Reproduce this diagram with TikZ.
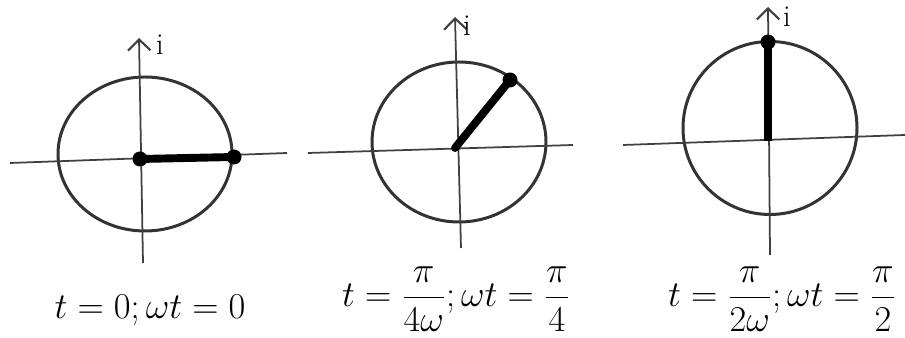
\documentclass[tikz,border=0pt]{standalone}
\usepackage{amsmath,amssymb}
\usepackage{tikz}
\usetikzlibrary{arrows.meta, positioning, calc}

\begin{document}
\begin{tikzpicture}[
    axisline/.style={line width=1pt, black!75},
    upaxis/.style={axisline, -{Straight Barb[length=2.2mm, width=4.5mm, line width=1.2pt]}},
    ring/.style={line width=1.7pt, black!80},
    phasor/.style={line width=4.5pt, black, line cap=round},
    tipdot/.style={circle, fill=black, inner sep=0pt, minimum size=0.3cm},
    lbl/.style={font=\huge},
    axlbl/.style={font=\LARGE},
]
  \useasboundingbox (0,0) rectangle (18.1,6.76);

  % t = 0
  \draw[ring] (2.9,3.68) ellipse (1.74 and 1.54);
  \draw[axisline] (0.2,3.5) -- (5.74,3.7);
  \draw[upaxis] (2.86,1.5) -- (2.78,6.0);
  \node[axlbl] (i1) at (3.2,5.86) {i};
  \node[tipdot] (o1) at (2.8,3.58) {};
  \node[tipdot] (p1) at (4.68,3.62) {};
  \draw[phasor] (o1.center) -- (p1.center);
  \node[lbl] (t1) at (3.0,0.55) {$t=0;\omega t=0$};

  % t = pi/4w
  \draw[ring] (9.18,3.92) ellipse (1.74 and 1.6);
  \draw[axisline] (6.16,3.7) -- (11.46,3.86);
  \draw[upaxis] (9.22,1.8) -- (9.1,6.42);
  \node[axlbl] (i2) at (9.34,6.24) {i};
  \coordinate (o2) at (9.1,3.8);
  \node[tipdot] (p2) at (10.2,5.16) {};
  \draw[phasor] (o2) -- (p2.center);
  \node[lbl] (t2) at (9.12,0.78) {$t=\dfrac{\pi}{4\omega};\omega t=\dfrac{\pi}{4}$};

  % t = pi/2w
  \draw[ring] (15.4,4.2) ellipse (1.74 and 1.73);
  \draw[axisline] (12.46,3.86) -- (18.1,4.06);
  \draw[upaxis] (15.4,1.66) -- (15.36,6.62);
  \node[axlbl] (i3) at (15.74,6.42) {i};
  \coordinate (o3) at (15.36,3.94);
  \node[tipdot] (p3) at (15.36,5.92) {};
  \draw[phasor, line cap=butt] (o3) -- (p3.center);
  \node[lbl] (t3) at (15.64,0.78) {$t=\dfrac{\pi}{2\omega};\omega t=\dfrac{\pi}{2}$};
\end{tikzpicture}
\end{document}
